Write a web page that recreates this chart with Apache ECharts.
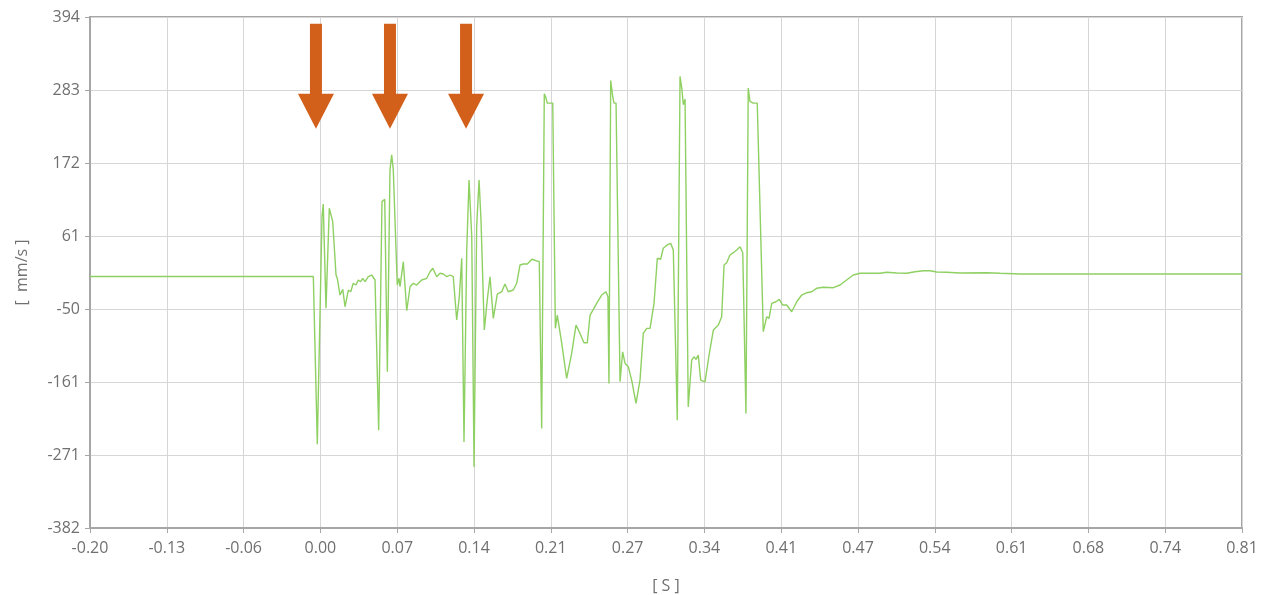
<!DOCTYPE html>
<html>
<head>
<meta charset="utf-8">
<script src="https://cdn.jsdelivr.net/npm/echarts@6/dist/echarts.min.js"></script>
<style>
html,body{margin:0;padding:0;background:#fff;}
#chart{width:1263px;height:595px;}
</style>
</head>
<body>
<div id="chart"></div>
<script>
// time in seconds
const timeS = [
-0.2, -0.0042, -0.0007, 0.0034, 0.0045, 0.0069, 0.0098, 0.0128, 0.0157, 0.0168,
0.0192, 0.0216, 0.0236, 0.0265, 0.0286, 0.0308, 0.0332, 0.0352, 0.0373, 0.0391,
0.0411, 0.0440, 0.0470, 0.0499, 0.0531, 0.0560, 0.0584, 0.0607, 0.0630, 0.0645,
0.0659, 0.0694, 0.0709, 0.0718, 0.0747, 0.0777, 0.0806, 0.0834, 0.0864, 0.0908,
0.0952, 0.0981, 0.1005, 0.1040, 0.1069, 0.1098, 0.1128, 0.1157, 0.1185, 0.1215,
0.1238, 0.1259, 0.1279, 0.1303, 0.1323, 0.1347, 0.1367, 0.1390, 0.1411, 0.1428,
0.1457, 0.1483, 0.1507, 0.1536, 0.1571, 0.1610, 0.1638, 0.1667, 0.1711, 0.1741,
0.1770, 0.1799, 0.1834, 0.1875, 0.1910, 0.1939, 0.1960, 0.1983, 0.1998, 0.2009,
0.2057, 0.2080, 0.2097, 0.2136, 0.2179, 0.2223, 0.2261, 0.2296, 0.2331, 0.2360,
0.2384, 0.2413, 0.2442, 0.2486, 0.2524, 0.2541, 0.2550, 0.2565, 0.2583, 0.2594,
0.2612, 0.2647, 0.2670, 0.2691, 0.2720, 0.2749, 0.2787, 0.2822, 0.2851, 0.2881,
0.2910, 0.2945, 0.2974, 0.3003, 0.3026, 0.3061, 0.3091, 0.3114, 0.3129, 0.3149,
0.3173, 0.3190, 0.3202, 0.3217, 0.3245, 0.3275, 0.3295, 0.3313, 0.3333, 0.3354,
0.3392, 0.3430, 0.3465, 0.3509, 0.3538, 0.3559, 0.3582, 0.3611, 0.3640, 0.3670,
0.3699, 0.3723, 0.3751, 0.3771, 0.3786, 0.3815, 0.3850, 0.3903, 0.3933, 0.3953,
0.3977, 0.4014, 0.4043, 0.4073, 0.4108, 0.4152, 0.4196, 0.4240, 0.4284, 0.4327,
0.4371, 0.4429, 0.4517, 0.4576, 0.4634, 0.4692, 0.4751, 0.4839, 0.4927, 0.4985,
0.5073, 0.5160, 0.5233, 0.5306, 0.5365, 0.5423, 0.5511, 0.5628, 0.5862, 0.5978,
0.6154, 0.6680, 0.7206, 0.81
];
// velocity in mm/s
const velocity = [
0, 0, -254.8, 90.8, 110.1, -48.4, 103.6, 83.2, 2.2, -2.8,
-28.2, -19.6, -46.0, -20.6, -23.2, -10.4, -13.0, -5.4, -8.0, -2.8,
-8.0, -0.4, 2.2, -5.4, -233.5, 113.6, 117.3, -144.8, 161.8, 184.6,
161.8, -13.0, -2.8, -15.6, 22.4, -52.1, -15.6, -10.4, -13.0, -5.4,
-2.8, 7.2, 12.4, -0.4, 4.8, 3.7, -0.4, 2.2, -0.4, -66.2,
-30.8, 27.6, -251.3, 40.2, 146.6, 60.4, -289.3, 75.6, 146.6, 85.8,
-81.4, -35.8, -0.4, -63.6, -26.7, -23.2, -11.5, -23.2, -20.6, -10.4,
17.4, 18.9, 18.9, 26.1, 23.9, 22.4, -230.9, 277.4, 270.8, 263.2,
263.2, -78.8, -58.6, -101.7, -154.9, -116.9, -73.8, -86.5, -100.7, -100.7,
-58.6, -50.0, -40.8, -28.2, -23.2, -30.8, -162.5, 297.6, 273.3, 263.2,
263.2, -160.0, -114.4, -132.1, -137.2, -157.4, -192.9, -157.4, -86.5, -78.8,
-78.8, -40.8, 27.6, 26.1, 42.8, 47.8, 50.4, 40.2, 37.6, -218.3,
303.7, 283.5, 260.7, 269.3, -198.0, -127.0, -122.0, -126.0, -119.4, -157.4,
-160.0, -116.9, -81.4, -73.8, -61.2, 17.4, 20.9, 32.6, 36.1, 40.2,
45.2, 36.1, -208.1, 286.1, 265.7, 263.2, 263.2, -83.9, -61.2, -63.6,
-40.8, -38.4, -34.8, -43.4, -43.4, -53.6, -38.4, -28.2, -24.7, -23.2,
-18.0, -16.5, -17.1, -13.0, -5.4, 2.2, 4.8, 4.8, 4.8, 6.3,
5.2, 4.8, 7.2, 8.7, 8.7, 6.8, 6.3, 5.2, 5.7, 4.8,
3.7, 3.7, 3.7, 3.7
];
const xTickLabels = ['-0.20','-0.13','-0.06','0.00','0.07','0.14','0.21','0.27','0.34','0.41','0.47','0.54','0.61','0.68','0.74','0.81'];
const yTickLabels = ['-382','-271','-161','-50','61','172','283','394'];
const xRange = [-0.2, 0.81];
const yRange = [-382, 394];
// arrow annotations (time, velocity at arrow centre)
const arrowTimes = [-0.0019, 0.0630, 0.1297];
const arrowValue = 304;

const chart = echarts.init(document.getElementById('chart'), null, {renderer: 'canvas'});
const axisGray = '#a6a6a6';
const labelGray = '#707070';
const font = "'Open Sans', 'DejaVu Sans', sans-serif";

const seriesData = timeS.map((t, i) => [t, velocity[i]]);

chart.setOption({
  animation: false,
  backgroundColor: '#ffffff',
  grid: {
    left: 90, right: 21, top: 17, bottom: 67,
    containLabel: false,
    outerBoundsMode: 'none',
    show: true,
    borderColor: axisGray,
    borderWidth: 2,
    backgroundColor: 'transparent'
  },
  xAxis: [
    {
      type: 'category',
      data: xTickLabels,
      boundaryGap: false,
      name: '[ S ]',
      nameLocation: 'middle',
      nameGap: 50,
      nameTextStyle: {color: labelGray, fontSize: 16, fontFamily: font},
      axisLine: {show: true, onZero: false, lineStyle: {color: axisGray, width: 2}},
      axisTick: {show: true, length: 5, lineStyle: {color: axisGray, width: 1}},
      axisLabel: {interval: 0, color: labelGray, fontSize: 16, fontFamily: font, margin: 12},
      splitLine: {show: true, interval: 0, lineStyle: {color: '#d6d6d6', width: 1}}
    },
    {
      type: 'value',
      min: xRange[0], max: xRange[1],
      show: false,
      axisLine: {show: false, onZero: false},
      splitLine: {show: false}
    }
  ],
  yAxis: [
    {
      type: 'category',
      data: yTickLabels,
      boundaryGap: false,
      name: '[  mm/s ]',
      nameLocation: 'middle',
      nameGap: 60,
      nameRotate: 90,
      nameTextStyle: {color: labelGray, fontSize: 16, fontFamily: font},
      axisLine: {show: true, onZero: false, lineStyle: {color: axisGray, width: 2}},
      axisTick: {show: true, length: 5, lineStyle: {color: axisGray, width: 1}},
      axisLabel: {interval: 0, color: labelGray, fontSize: 16, fontFamily: font, margin: 10},
      splitLine: {show: true, interval: 0, lineStyle: {color: '#d6d6d6', width: 1}}
    },
    {
      type: 'value',
      min: yRange[0], max: yRange[1],
      show: false,
      axisLine: {show: false, onZero: false},
      splitLine: {show: false}
    }
  ],
  series: [{
    type: 'line',
    xAxisIndex: 1,
    yAxisIndex: 1,
    data: seriesData,
    showSymbol: false,
    symbol: 'none',
    lineStyle: {color: '#8fd062', width: 1.4},
    itemStyle: {color: '#8fd062'},
    z: 3,
    markPoint: {
      silent: true,
      symbol: 'path://M12,0 L24,0 L24,70 L36,70 L18,105 L0,70 L12,70 Z',
      symbolSize: [36, 105],
      symbolKeepAspect: false,
      itemStyle: {color: '#d2601a'},
      label: {show: false},
      data: arrowTimes.map(t => ({coord: [t, arrowValue]}))
    }
  }]
});
</script>
</body>
</html>
